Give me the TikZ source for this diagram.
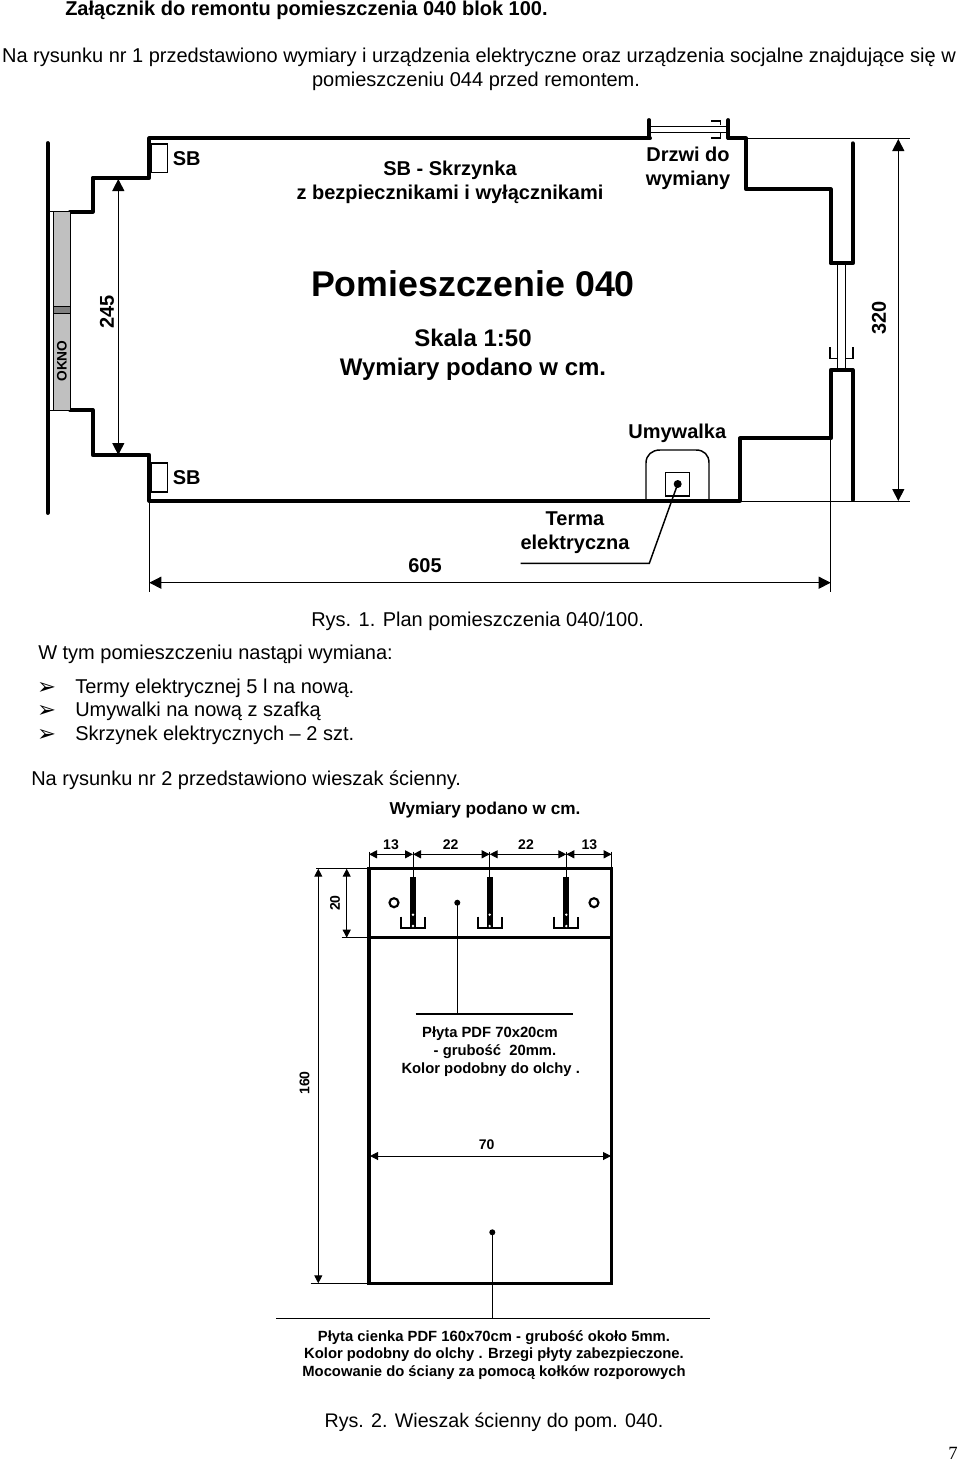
\documentclass[tikz,border=0pt]{standalone}
\usepackage{fontspec}
\setmainfont{Liberation Sans}
\newfontfamily\symbfont{DejaVu Sans}
\newfontfamily\serifnum{Liberation Serif}
\usetikzlibrary{arrows.meta}
\definecolor{oknogray}{HTML}{C0C0C0}
\definecolor{oknodark}{HTML}{808080}
\tikzset{
  txt/.style={inner sep=0pt,align=center,font=\fontsize{15}{18}\selectfont},
  txtb/.style={inner sep=0pt,align=center,font=\fontsize{15}{18}\selectfont\bfseries},
  txtbig/.style={inner sep=0pt,font=\fontsize{26.8}{32}\selectfont\bfseries},
  txtmid/.style={inner sep=0pt,font=\fontsize{18}{22}\selectfont\bfseries},
  txts/.style={inner sep=0pt,align=center,font=\fontsize{11.1}{13.4}\selectfont\bfseries},
  txtdim/.style={inner sep=0pt,font=\fontsize{10.5}{12}\selectfont\bfseries},
  wall/.style={line width=2.9pt,line join=round,line cap=round},
  thinl/.style={line width=.6pt},
  dimbig/.style={line width=.75pt,{Triangle[length=9pt,width=9pt]}-{Triangle[length=9pt,width=9pt]}},
  dimsmall/.style={line width=.75pt,{Triangle[length=6pt,width=6pt]}-{Triangle[length=6pt,width=6pt]}},
  dot/.style={circle,fill=black,inner sep=0pt,minimum size=#1},
}
\begin{document}
\begin{tikzpicture}[x=.75pt,y=-.75pt]
  \useasboundingbox (0,0) rectangle (960,1463);
  % texts at the top
  \node[txtb,anchor=west] (title) at (65,10) {Załącznik do remontu pomieszczenia 040 blok 100.};
  \node[txt] (intro1) at (479,57) {Na rysunku nr 1 przedstawiono wymiary i urządzenia elektryczne oraz urządzenia socjalne znajdujące się w};
  \node[txt] (intro2) at (476,81) {pomieszczeniu 044 przed remontem.};

  % walls
  \draw[wall] (47.7,143)--(47.7,513) ;
  \draw[wall] (70,211.7)--(92.7,211.7)--(92.7,177.7)--(149.3,177.7)--(149.3,138.3)--(650,138.3) ;
  \draw[wall] (70,410)--(92.7,410)--(92.7,455)--(149.3,455)--(149.3,500.7)--(740,500.7)--(740,438.3)--(830.7,438.3)--(830.7,370)--(852.7,370)--(852.7,500) ;
  \draw[wall] (728.3,138.3)--(746,138.3)--(746,189.3)--(830.7,189.3)--(830.7,263.3)--(852.7,263.3)--(852.7,143.3) ;
  \draw[wall] (649,120)--(649,138) ;
  \draw[wall] (728.3,120)--(728.3,138) ;

  % window
  \draw[thinl,fill=oknogray] (53.7,211.7) rectangle (70,410) ;
  \draw[thinl,fill=oknodark] (53.7,306.7) rectangle (70,313.3) ;
  \draw[thinl] (47.7,211.7)--(53.7,211.7) ;
  \draw[thinl] (47.7,410)--(53.7,410) ;
  \node[inner sep=0pt,rotate=90,font=\fontsize{10.3}{12}\selectfont\bfseries] (okno) at (62,361) {OKNO};

  % door at the top
  \draw[line width=1pt] (649,126.7)--(728,126.7) ;
  \draw[line width=1pt] (649,132.7)--(728,132.7) ;
  \draw[line width=1pt] (711,121)--(720.5,121)--(720.5,125) ;
  \draw[line width=1pt] (711,138)--(720.5,138)--(720.5,133) ;

  % door on the right
  \draw[line width=1pt] (837.3,263)--(837.3,370) ;
  \draw[line width=1pt] (845.3,263)--(845.3,370) ;
  \draw[line width=1pt] (830,347)--(830,358.3)--(837,358.3) ;
  \draw[line width=1pt] (853,347)--(853,358.3)--(846,358.3) ;

  % boxes
  \draw[line width=1.1pt] (151.7,144) rectangle (167.3,172.7) ;
  \draw[line width=1.1pt] (151.7,463) rectangle (167.3,492) ;
  \node[txtb] (sb1) at (186.7,158.5) {SB};
  \node[txtb] (sb2) at (186.7,477.5) {SB};
  \node[txtb] (sblegend) at (450,182) {SB - Skrzynka\\[0pt]z bezpiecznikami i wyłącznikami};
  \node[txtb] (door) at (688,168) {Drzwi do\\[0pt]wymiany};
  \node[txtbig] (room) at (473,284) {Pomieszczenie 040};
  \node[txtmid] (scale1) at (473,338) {Skala 1:50};
  \node[txtmid] (scale2) at (473,369) {Wymiary podano w cm.};

  % washbasin and heater
  \draw[line width=1.1pt] (646,500)--(646,463) .. controls (646,455) and (652,450) .. (660,450) --(696,450) .. controls (704,450) and (709,455) .. (709,463) --(709,500) ;
  \draw[line width=1.1pt] (665.7,472.3) rectangle (689.3,496) ;
  \node[dot=6pt] (heater) at (677.7,484) {};
  \coordinate (heaterbend) at (649.3,563.3) ;
  \coordinate (heaterend) at (520.7,563.3) ;
  \draw[line width=1.1pt] (heater.center)--(heaterbend)--(heaterend) ;
  \node[txtb] (basin) at (677.3,433) {Umywalka};
  \node[txtb] (heatertxt) at (575,533) {Terma\\[0pt]elektryczna};

  % dimensions of the room
  \draw[thinl] (149.3,501)--(149.3,591.7) ;
  \draw[thinl] (830.7,438)--(830.7,591.7) ;
  \draw[thinl] (740,501)--(910,501) ;
  \draw[thinl] (746,138.3)--(910,138.3) ;
  \draw[dimbig] (118.3,179)--(118.3,455) ;
  \draw[dimbig] (898.3,139)--(898.3,501) ;
  \draw[dimbig] (149.3,582.7)--(830.7,582.7) ;
  \node[txtb,rotate=90] (d245) at (107,311.7) {245};
  \node[txtb,rotate=90] (d320) at (879,318) {320};
  \node[txtb] (d605) at (425,566) {605};

  % middle texts
  \node[txt,anchor=west] (rys1) at (311,621) {Rys. 1. Plan pomieszczenia 040/100.};
  \node[txt,anchor=west] (wtym) at (38,654) {W tym pomieszczeniu nastąpi wymiana:};
  \foreach \yb/\tb in {688/Termy elektrycznej 5 l na nową.,711/Umywalki na nową z szafką,735/Skrzynek elektrycznych -- 2 szt.}{
    \node[inner sep=0pt,font=\fontsize{17}{18}\symbfont] at (46.5,\yb) {➢};
    \node[txt,anchor=west] at (75,\yb) {\tb};
  }
  \node[txt,anchor=west] (rysunek2) at (31,780) {Na rysunku nr 2 przedstawiono wieszak ścienny.};
  \node[txts,font=\fontsize{12.9}{14}\selectfont\bfseries] (wymiary) at (485,810) {Wymiary podano w cm.};

  % hanger
  \draw[line width=2.4pt] (369,868.7) rectangle (611.7,1283.3) ;
  \draw[line width=2.4pt] (369,937.7)--(611.7,937.7) ;
  \foreach \xh in {413,489.7,566.3}{
    \draw[thinl] (\xh,851.7)--(\xh,877) ;
    \fill (\xh-3,876.7) rectangle (\xh+3,926.7) ;
    \draw[line width=1.5pt] (\xh-12,916.7)--(\xh-12,927.7)--(\xh+12,927.7)--(\xh+12,916.7) ;
    \fill[white] (\xh,914.7) circle (1.3) ;
    \fill[white] (\xh,926) circle (1.3) ;
  }
  \draw[line width=1.6pt] (394,902.7) circle (4.5) ;
  \draw[line width=1.6pt] (594,902.7) circle (4.5) ;
  \node[dot=4.5pt] (screwa) at (457.3,902.7) {};
  \node[dot=4.5pt] (screwb) at (492.3,1232.3) {};
  \coordinate (screwaend) at (457.3,1014) ;
  \coordinate (screwbend) at (492.3,1318.3) ;
  \draw[thinl] (screwa.center)--(screwaend) ;
  \draw[thinl] (screwb.center)--(screwbend) ;
  \draw[line width=1.1pt] (415.7,1014)--(573.3,1014) ;
  \draw[line width=1.1pt] (276,1318.3)--(710,1318.3) ;

  % dimensions of the hanger
  \draw[thinl] (369,851.7)--(369,868) ;
  \draw[thinl] (611.7,851.7)--(611.7,868) ;
  \draw[thinl] (316,868.7)--(369,868.7) ;
  \draw[thinl] (341.7,937.7)--(369,937.7) ;
  \draw[thinl] (310.7,1283.3)--(369,1283.3) ;
  \draw[dimsmall] (369,854.3)--(413,854.3) ;
  \draw[dimsmall] (413,854.3)--(489.7,854.3) ;
  \draw[dimsmall] (489.7,854.3)--(566.3,854.3) ;
  \draw[dimsmall] (566.3,854.3)--(611.7,854.3) ;
  \draw[dimsmall] (346.7,868.7)--(346.7,937.7) ;
  \draw[dimsmall] (318.3,868.7)--(318.3,1283.3) ;
  \draw[dimsmall] (370,1156)--(611,1156) ;
  \node[txtdim] (d13a) at (391,845) {13};
  \node[txtdim] (d22a) at (450.7,845) {22};
  \node[txtdim] (d22b) at (526,845) {22};
  \node[txtdim] (d13b) at (589.3,845) {13};
  \node[txtdim,rotate=90] (d20) at (335,903) {20};
  \node[txtdim,rotate=90] (d160) at (304.5,1083) {160};
  \node[txtdim] (d70) at (486.7,1145) {70};
  \node[txts] (plate1a) at (490,1033.5) {Płyta PDF 70x20cm};
  \node[txts] (plate1b) at (495,1052) {- grubość\ \ 20mm.};
  \node[txts] (plate1c) at (490.7,1069.5) {Kolor podobny do olchy .};
  \node[txts] (plate2) at (494,1355) {Płyta cienka PDF 160x70cm - grubość około 5mm.\\[0pt]Kolor podobny do olchy . Brzegi płyty zabezpieczone.\\[0pt]Mocowanie do ściany za pomocą kołków rozporowych};

  \node[inner sep=0pt,font=\fontsize{14.75}{18}\selectfont] (rys2) at (494,1422.5) {Rys. 2. Wieszak ścienny do pom. 040.};
  \node[inner sep=0pt,font=\fontsize{14}{16}\serifnum] (pageno) at (953,1453) {7};
\end{tikzpicture}
\end{document}
